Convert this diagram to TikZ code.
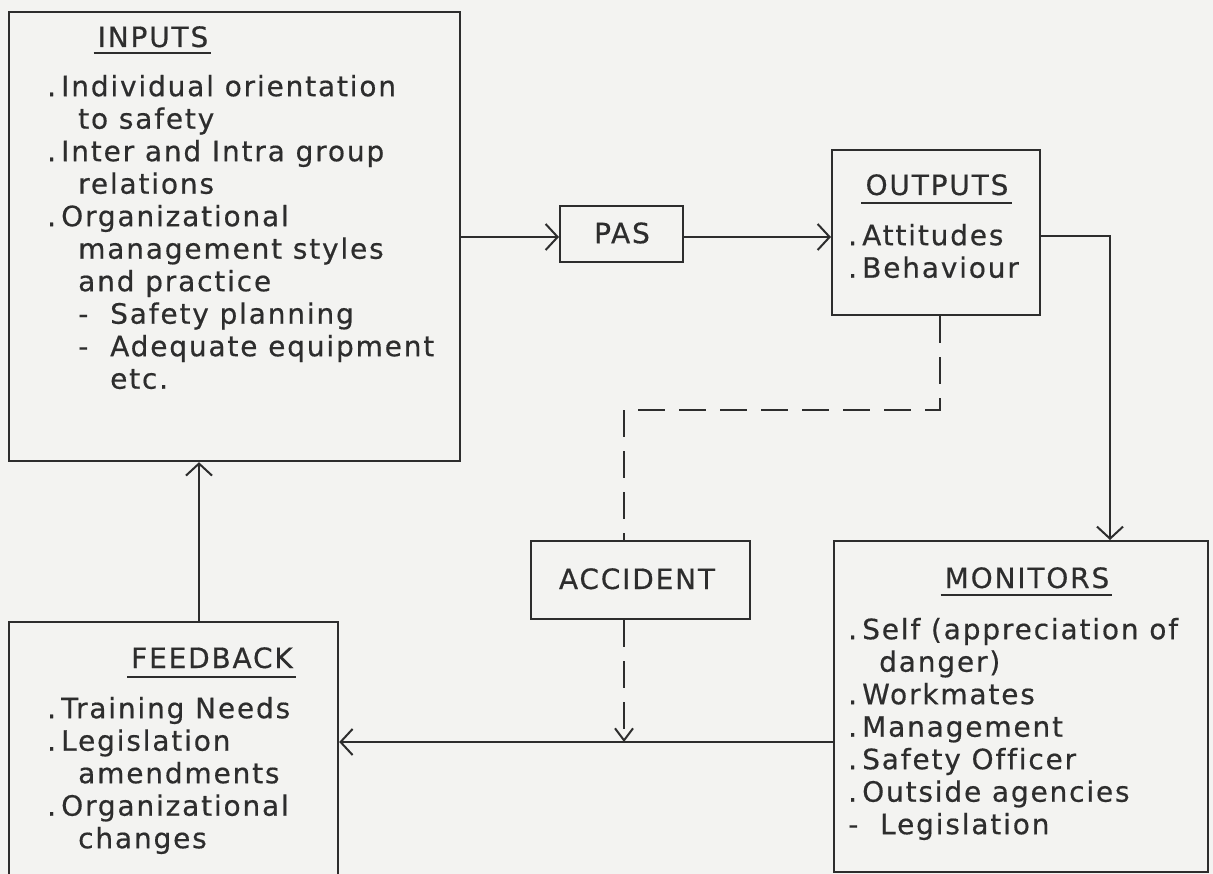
\documentclass[tikz,border=0pt]{standalone}
\usepackage{fontspec}
\setmainfont{DejaVu Sans}[LetterSpace=6.5, FakeBold=0.5, Ligatures=NoCommon]
\usetikzlibrary{arrows.meta,calc}

\definecolor{paper}{RGB}{243,243,241}
\definecolor{ink}{RGB}{45,45,45}

% list helpers: bullet dot, continuation indent, dash item
\newcommand\dotitem{\makebox[14pt][l]{.}}
\newcommand\contline{\hspace*{31pt}}
\newcommand\dashitem{\makebox[32pt][l]{-}}
\newcommand\firstline{\rule{0pt}{24pt}}

\tikzset{
  box/.style={draw=ink, line width=2.2pt, inner sep=0pt, anchor=north west},
  boxtext/.style={font=\fontsize{28}{32.5}\selectfont, text=ink},
  body/.style={boxtext, align=left, inner sep=0pt, anchor=north west},
  title/.style={boxtext, inner sep=0pt, anchor=base},
  conn/.style={draw=ink, line width=2pt},
  dashconn/.style={conn, dash pattern=on 27pt off 14pt},
  tip/.style={-{Straight Barb[length=12pt,width=26pt]}},
  smalltip/.style={-{Straight Barb[length=12pt,width=18pt]}},
  uline/.style={draw=ink, line width=1.8pt}
}

\begin{document}
\begin{tikzpicture}[x=1pt,y=-1pt]
\useasboundingbox (0,0) rectangle (1213,874);
\fill[paper] (0,0) rectangle (1213,874);
\begin{scope}
\clip (0,0) rectangle (1213,874);

% boxes
\node[box, minimum width=451pt, minimum height=449pt] (inputs)   at (8,11)    {};
\node[box, minimum width=123pt, minimum height=56pt]  (pas)      at (559,205) {};
\node[box, minimum width=208pt, minimum height=165pt] (outputs)  at (831,149) {};
\node[box, minimum width=219pt, minimum height=78pt]  (accident) at (530,540) {};
\node[box, minimum width=374pt, minimum height=331pt] (monitors) at (833,540) {};
\node[box, minimum width=329pt, minimum height=270pt] (feedback) at (8,621)   {};

% box labels
\node[boxtext, inner sep=0pt] (pastext) at (622,233) {PAS};
\node[title] (accidenttext) at (637,589) {ACCIDENT};

% underlined headings
\node[title] (tin)  at (153,47)  {INPUTS};
\node[title] (tout) at (937,195) {OUTPUTS};
\node[title] (tmon) at (1027,588) {MONITORS};
\node[title] (tfb)  at (212,668) {FEEDBACK};
\foreach \t/\d in {tin/6, tout/8, tmon/7, tfb/9}
  \draw[uline] ([xshift=-4pt,yshift=-\d pt]\t.base west) -- ([xshift=3pt,yshift=-\d pt]\t.base east);

% item lists
\node[body] (inlist) at (47,72) {\firstline\dotitem Individual orientation\\
  \contline to safety\\
  \dotitem Inter and Intra group\\
  \contline relations\\
  \dotitem Organizational\\
  \contline management styles\\
  \contline and practice\\
  \contline\dashitem Safety planning\\
  \contline\dashitem Adequate equipment\\
  \contline\hspace*{32pt}etc.};

\node[body] (outlist) at (848,221) {\firstline\dotitem Attitudes\\
  \dotitem Behaviour};

\node[body] (monlist) at (848,615) {\firstline\dotitem Self (appreciation of\\
  \contline danger)\\
  \dotitem Workmates\\
  \dotitem Management\\
  \dotitem Safety Officer\\
  \dotitem Outside agencies\\
  \dashitem Legislation};

\node[body] (fblist) at (47,694) {\firstline\dotitem Training Needs\\
  \dotitem Legislation\\
  \contline amendments\\
  \dotitem Organizational\\
  \contline changes};

% routing points
\coordinate (rowA)  at (0,237);
\coordinate (bendR) at (1110,236);
\coordinate (dA)    at (940,410);
\coordinate (dB)    at (624,410);
\coordinate (joinM) at (624,742);
\coordinate (upF)   at (199,0);

% solid connectors
\draw[conn, tip] (inputs.east |- rowA) -- (pas.west |- rowA);
\draw[conn, tip] (pas.east |- rowA) -- (outputs.west |- rowA);
\draw[conn, tip] (outputs.east |- bendR) -- (bendR) -- (bendR |- monitors.north);
\draw[conn, tip] (monitors.west |- joinM) -- (feedback.east |- joinM);
\draw[conn, tip] (upF |- feedback.north) -- (upF |- inputs.south);

% dashed accident path
\draw[dashconn] (dA |- outputs.south) -- (dA) -- (dB) -- (dB |- accident.north);
\draw[dashconn, smalltip] (dB |- accident.south) -- (joinM);
\end{scope}
\end{tikzpicture}
\end{document}
